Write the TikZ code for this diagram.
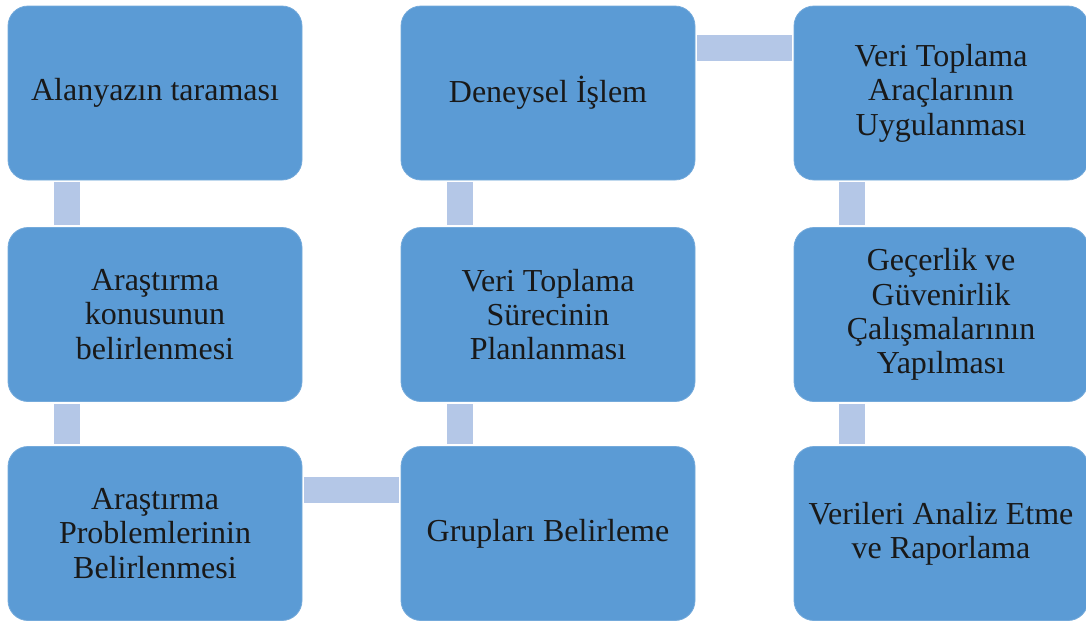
\documentclass[tikz,border=0pt]{standalone}
\usepackage{fontspec}
\setmainfont{Liberation Serif}
\usetikzlibrary{calc}

\definecolor{boxblue}{HTML}{5B9BD5}
\definecolor{barblue}{HTML}{B4C7E7}

\begin{document}
\begin{tikzpicture}[
        x=0.5pt,y=-0.5pt,
        stepbox/.style={rectangle,rounded corners=10pt,fill=boxblue,draw=boxblue!85!white,
            minimum width=147pt,minimum height=87pt,align=center,text=black!90,
            font=\fontsize{16}{17.2}\selectfont},
        bar/.style={draw=barblue,line width=13pt,shorten <=1pt,shorten >=1pt}
    ]
        \useasboundingbox (0,0) rectangle (1086,622);
        % Boxes
        \node[stepbox] (A1) at (155,93) {Alanyazın taraması};
        \node[stepbox] (A2) at (155,314.5) {Araştırma\\konusunun\\belirlenmesi};
        \node[stepbox] (A3) at (155,533.5) {Araştırma\\Problemlerinin\\Belirlenmesi};
        \node[stepbox] (B3) at (548,533.5) {Grupları Belirleme};
        \node[stepbox] (B2) at (548,314.5) {Veri Toplama\\Sürecinin\\Planlanması};
        \node[stepbox] (B1) at (548,93) {Deneysel İşlem};
        \node[stepbox] (C1) at (941,93) {Veri Toplama\\Araçlarının\\Uygulanması};
        \node[stepbox] (C2) at (941,314.5) {Geçerlik ve\\Güvenirlik\\Çalışmalarının\\Yapılması};
        \node[stepbox] (C3) at (941,533.5) {Verileri Analiz Etme\\ve Raporlama};

        % Connectors
        \draw[bar] ($(A1.south west)+(59,0)$) -- ($(A2.north west)+(59,0)$);
        \draw[bar] ($(A2.south west)+(59,0)$) -- ($(A3.north west)+(59,0)$);
        \draw[bar] ($(A3.north east)+(0,43.5)$) -- ($(B3.north west)+(0,43.5)$);
        \draw[bar] ($(B3.north west)+(59,0)$) -- ($(B2.south west)+(59,0)$);
        \draw[bar] ($(B2.north west)+(59,0)$) -- ($(B1.south west)+(59,0)$);
        \draw[bar] ($(B1.north east)+(0,42)$) -- ($(C1.north west)+(0,42)$);
        \draw[bar] ($(C1.south west)+(58,0)$) -- ($(C2.north west)+(58,0)$);
        \draw[bar] ($(C2.south west)+(58,0)$) -- ($(C3.north west)+(58,0)$);
    \end{tikzpicture}
\end{document}
